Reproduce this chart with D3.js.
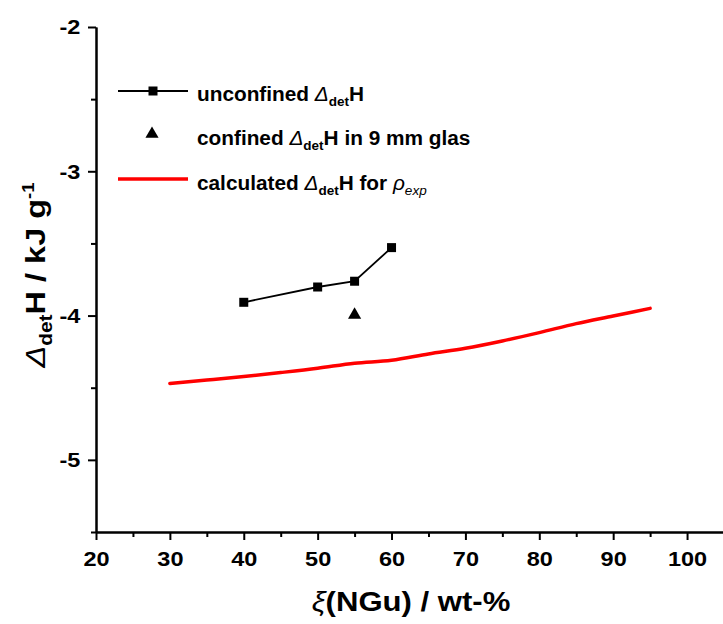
<!DOCTYPE html>
<html>
<head>
<meta charset="utf-8">
<script src="https://cdn.jsdelivr.net/npm/d3@7"></script>
<style>
  body { margin: 0; background: #fff; }
  svg text { font-family: "Liberation Sans", Arial, sans-serif; font-weight: bold; }
</style>
</head>
<body>
<svg id="chart" width="723" height="624"></svg>
<script>
let svg = d3.select('#chart');

// data
let unconfinedX = [40, 50, 55, 60];
let unconfinedY = [-3.908, -3.802, -3.762, -3.529];
let confinedX = [55];
let confinedY = [-3.995];
let calcX = [30, 35, 40, 45, 50, 55, 60, 65, 70, 75, 80, 85, 90, 95];
let calcY = [-4.47, -4.447, -4.423, -4.395, -4.365, -4.33, -4.31, -4.266, -4.227, -4.176, -4.118, -4.056, -4.003, -3.95];
let xTicks = [20, 30, 40, 50, 60, 70, 80, 90, 100];
let yTicks = [-5, -4, -3, -2];

let x = d3.scaleLinear().domain([20, 105]).range([96, 724]);
let y = d3.scaleLinear().domain([-5.5, -2]).range([532, 27]);

// axes
svg.append('g')
    .attr('transform', 'translate(0,532)')
    .call(d3.axisBottom(x).tickValues(xTicks).tickSize(8).tickPadding(11).tickSizeOuter(0))
    .selectAll('.tick text').attr('transform', 'scale(1.12,1)');
svg.append('g')
    .attr('transform', 'translate(0,532)')
    .call(d3.axisBottom(x).tickValues(d3.range(25, 105, 10)).tickSize(5).tickFormat('').tickSizeOuter(0));

svg.append('g')
    .attr('transform', 'translate(96,0)')
    .call(d3.axisLeft(y).tickValues(yTicks).tickSize(8).tickPadding(6).tickSizeOuter(0)
        .tickFormat(d => d3.format('d')(d).replace('−', '-')))
    .selectAll('.tick text').attr('transform', 'scale(1.12,1)');
svg.append('g')
    .attr('transform', 'translate(96,0)')
    .call(d3.axisLeft(y).tickValues([-5.5, -4.5, -3.5, -2.5]).tickSize(5).tickFormat('').tickSizeOuter(0));

svg.selectAll('.domain, .tick line').attr('stroke', '#000').attr('stroke-width', 2);
svg.selectAll('.tick text').attr('font-size', 21).attr('fill', '#000');

// calculated line
let line = d3.line().x(d => x(d[0])).y(d => y(d[1])).curve(d3.curveMonotoneX);
svg.append('path')
    .datum(d3.zip(calcX, calcY))
    .attr('d', line)
    .attr('fill', 'none')
    .attr('stroke', '#ff0000')
    .attr('stroke-width', 3.5)
    .attr('stroke-linecap', 'round');

// unconfined
let unconf = d3.zip(unconfinedX, unconfinedY);
svg.append('path')
    .datum(unconf)
    .attr('d', d3.line().x(d => x(d[0])).y(d => y(d[1])))
    .attr('fill', 'none')
    .attr('stroke', '#000')
    .attr('stroke-width', 1.8);
svg.selectAll('.sq')
    .data(unconf)
    .join('rect')
    .attr('x', d => x(d[0]) - 4.5)
    .attr('y', d => y(d[1]) - 4.5)
    .attr('width', 9).attr('height', 9)
    .attr('fill', '#000');

// confined
svg.selectAll('.tri')
    .data(d3.zip(confinedX, confinedY))
    .join('path')
    .attr('d', d3.symbol(d3.symbolTriangle, 75))
    .attr('transform', d => `translate(${x(d[0])},${y(d[1])})`)
    .attr('fill', '#000');

// legend
let leg = svg.append('g');
leg.append('line').attr('x1', 118).attr('x2', 188).attr('y1', 91).attr('y2', 91)
    .attr('stroke', '#000').attr('stroke-width', 1.8);
leg.append('rect').attr('x', 148.5).attr('y', 86.5).attr('width', 9).attr('height', 9);
leg.append('path').attr('d', d3.symbol(d3.symbolTriangle, 75))
    .attr('transform', 'translate(152,134)');
leg.append('line').attr('x1', 118).attr('x2', 188).attr('y1', 179).attr('y2', 179)
    .attr('stroke', '#ff0000').attr('stroke-width', 3.5);

function legText(yPos, parts) {
  let t = leg.append('text')
      .attr('transform', `translate(197,${yPos}) scale(1.04,1)`)
      .attr('font-size', 20);
  parts.forEach(p => {
    let ts = t.append('tspan').text(p.t);
    if (p.i) ts.attr('font-style', 'italic').attr('font-weight', 'normal');
    if (p.sub) ts.attr('font-size', 13).attr('dy', 5);
    if (p.back) ts.attr('dy', -5);
  });
}
legText(101, [{t: 'unconfined '}, {t: 'Δ', i: 1}, {t: 'det', sub: 1}, {t: 'H', back: 1}]);
legText(145, [{t: 'confined '}, {t: 'Δ', i: 1}, {t: 'det', sub: 1}, {t: 'H in 9 mm glas', back: 1}]);
legText(190, [{t: 'calculated '}, {t: 'Δ', i: 1}, {t: 'det', sub: 1}, {t: 'H for ', back: 1}, {t: 'ρ', i: 1}, {t: 'exp', i: 1, sub: 1}]);

// axis titles
let xt = svg.append('text')
    .attr('transform', 'translate(411,611) scale(1.11,1)')
    .attr('text-anchor', 'middle').attr('font-size', 28);
xt.append('tspan').text('ξ').attr('font-style', 'italic').attr('font-weight', 'normal');
xt.append('tspan').text('(NGu) / wt-%');

let yt = svg.append('text')
    .attr('transform', 'translate(45,275) rotate(-90) scale(1.16,1)')
    .attr('text-anchor', 'middle').attr('font-size', 28);
yt.append('tspan').text('Δ').attr('font-style', 'italic').attr('font-weight', 'normal');
yt.append('tspan').text('det').attr('font-size', 18).attr('dy', 7);
yt.append('tspan').text('H / kJ g').attr('dy', -7);
yt.append('tspan').text('-1').attr('font-size', 16).attr('dy', -11);
</script>
</body>
</html>
